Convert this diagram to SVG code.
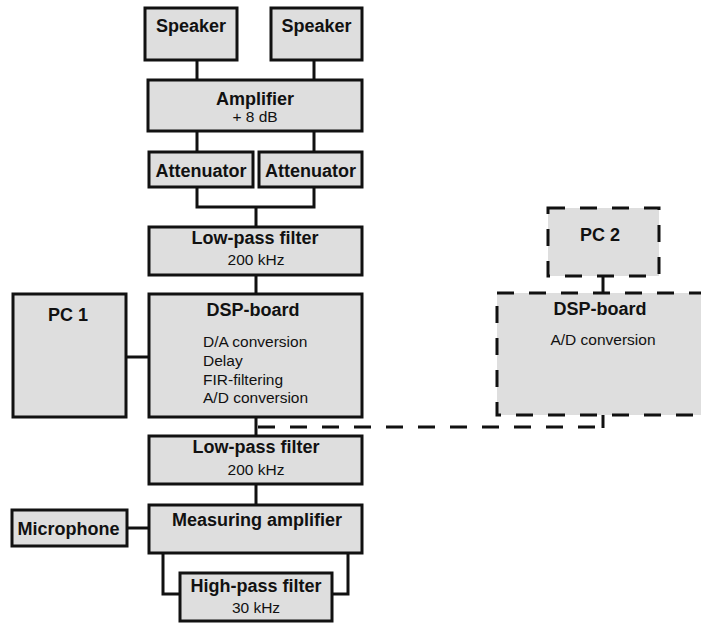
<svg xmlns="http://www.w3.org/2000/svg" width="701" height="623" viewBox="0 0 701 623">
<style>
.box{fill:#dedede;stroke:#111;stroke-width:3}
.dbox{fill:#dedede;stroke:#111;stroke-width:3;stroke-dasharray:17 15}
.ln{fill:none;stroke:#111;stroke-width:3}
.dln{fill:none;stroke:#111;stroke-width:3;stroke-dasharray:17 15}
.t{font-family:"Liberation Sans",Arial,sans-serif;font-weight:bold;font-size:18px;fill:#111;text-anchor:middle}
.s{font-family:"Liberation Sans",Arial,sans-serif;font-size:15.5px;fill:#111;text-anchor:middle}
.l{font-family:"Liberation Sans",Arial,sans-serif;font-size:15.5px;fill:#111}
</style>
<rect width="701" height="623" fill="#fff"/>
<g id="connectors">
<path class="ln" d="M197 60V80M314 60V80"/>
<path class="ln" d="M197 131V152M314 131V152"/>
<path class="ln" d="M197 187V207H314V187M256 207V227"/>
<path class="ln" d="M256 275V294"/>
<path class="ln" d="M126 357H149"/>
<path class="ln" d="M256 417V436"/>
<path class="dln" d="M258 427H603"/>
<path class="ln" d="M603 415V428"/>
<path class="ln" d="M603 276V293"/>
<path class="ln" d="M256 484V505"/>
<path class="ln" d="M127 528H149"/>
<path class="ln" d="M163 553V594H180M348 553V594H332"/>
</g>
<g id="speaker1"><rect class="box" x="145" y="8" width="92" height="52"/><text class="t" x="191" y="32">Speaker</text></g>
<g id="speaker2"><rect class="box" x="271" y="8" width="91" height="52"/><text class="t" x="316.5" y="32">Speaker</text></g>
<g id="amplifier"><rect class="box" x="148" y="80" width="214" height="51"/><text class="t" x="255" y="105">Amplifier</text><text class="s" x="255" y="122">+ 8 dB</text></g>
<g id="attenuator1"><rect class="box" x="149" y="152" width="104" height="35"/><text class="t" x="201" y="177">Attenuator</text></g>
<g id="attenuator2"><rect class="box" x="259" y="152" width="103" height="35"/><text class="t" x="310.5" y="177">Attenuator</text></g>
<g id="lowpass1"><rect class="box" x="149" y="227" width="213" height="48"/><text class="t" x="255" y="244">Low-pass filter</text><text class="s" x="256" y="265">200 kHz</text></g>
<g id="pc1"><rect class="box" x="13" y="294" width="113" height="123"/><text class="t" x="68" y="321">PC 1</text></g>
<g id="dsp1"><rect class="box" x="149" y="294" width="213" height="123"/><text class="t" x="253" y="316">DSP-board</text>
<text class="l" x="203" y="347">D/A conversion</text><text class="l" x="203" y="366">Delay</text><text class="l" x="203" y="384.5">FIR-filtering</text><text class="l" x="203" y="403">A/D conversion</text></g>
<g id="pc2"><rect class="dbox" x="548" y="208" width="111" height="68"/><text class="t" x="600" y="241">PC 2</text></g>
<g id="dsp2"><rect class="dbox" x="497" y="293" width="213" height="122"/><text class="t" x="600" y="315">DSP-board</text><text class="s" x="603" y="345">A/D conversion</text></g>
<g id="lowpass2"><rect class="box" x="149" y="436" width="213" height="48"/><text class="t" x="256" y="453">Low-pass filter</text><text class="s" x="256" y="475">200 kHz</text></g>
<g id="microphone"><rect class="box" x="12" y="510" width="115" height="36"/><text class="t" x="68.5" y="535">Microphone</text></g>
<g id="measamp"><rect class="box" x="149" y="505" width="213" height="48"/><text class="t" x="257" y="526">Measuring amplifier</text></g>
<g id="highpass"><rect class="box" x="180" y="573" width="152" height="48"/><text class="t" x="256" y="592">High-pass filter</text><text class="s" x="256" y="613">30 kHz</text></g>
</svg>
